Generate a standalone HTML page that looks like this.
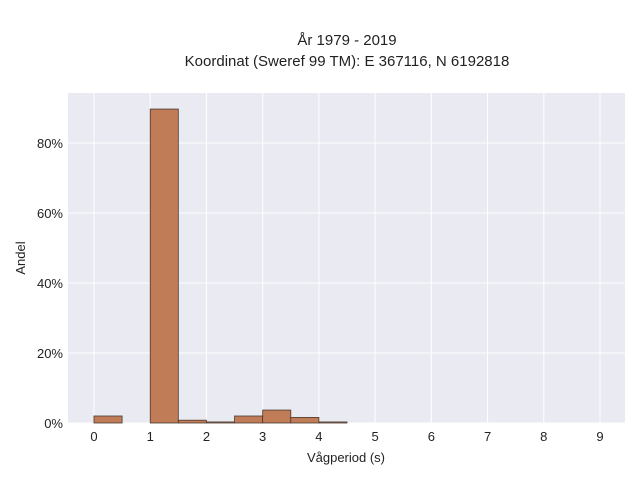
<!DOCTYPE html>
<html><head><meta charset="utf-8"><style>
body{margin:0;background:#fff;font-family:"Liberation Sans",sans-serif}
</style></head><body>
<svg width="640" height="480" font-family="Liberation Sans, sans-serif">
<text x="347" y="45" text-anchor="middle" font-size="15" fill="#222">År 1979 - 2019</text>
<text x="347" y="66" text-anchor="middle" font-size="15" fill="#222">Koordinat (Sweref 99 TM): E 367116, N 6192818</text>
<rect x="68" y="93" width="557" height="330" fill="#eaeaf2"/>
<g id="grid"></g><g id="bars"></g><g id="ticks"></g>
<text x="346" y="462" text-anchor="middle" font-size="13" fill="#222">Vågperiod (s)</text>
<text transform="translate(25,258) rotate(-90)" text-anchor="middle" font-size="13" fill="#222">Andel</text>
</svg>
<script>
const binStarts=[0,1,1.5,2,2.5,3,3.5,4];
const binValues=[2.0,89.7,0.8,0.3,2.0,3.7,1.6,0.3];
const xTicks=[0,1,2,3,4,5,6,7,8,9];
const yTicks=[0,20,40,60,80];
const binWidth=0.5;
const ns="http://www.w3.org/2000/svg";
const X=v=>94+v*(600-94)/9, Y=v=>423-v*3.5;
const g=document.getElementById('grid'),b=document.getElementById('bars'),t=document.getElementById('ticks');
function mk(tag,at,p){const e=document.createElementNS(ns,tag);for(const k in at)e.setAttribute(k,at[k]);p.appendChild(e);return e;}
xTicks.forEach(v=>{
 const l=mk('line',{x1:X(v),x2:X(v),y1:93,y2:423,stroke:'#fff','stroke-width':1},g);
 
 
 const s=mk('text',{x:X(v),y:441,'text-anchor':'middle','font-size':13,fill:'#222'},t);s.textContent=v;
 
 
});
yTicks.forEach(v=>{
 const l=mk('line',{x1:68,x2:625,y1:Y(v),y2:Y(v),stroke:'#fff','stroke-width':1},g);
 
 
 const s=mk('text',{x:63,y:Y(v)+5,'text-anchor':'end','font-size':13,fill:'#222'},t);s.textContent=v+'%';
 
 
});
binStarts.forEach((s,i)=>{
 const r=mk('rect',{x:X(s),y:Y(binValues[i]),width:X(s+binWidth)-X(s),height:Y(0)-Y(binValues[i]),fill:'#c07c57',stroke:'#4a3a30','stroke-width':0.8},b);
 
 
});
</script>
</body></html>
